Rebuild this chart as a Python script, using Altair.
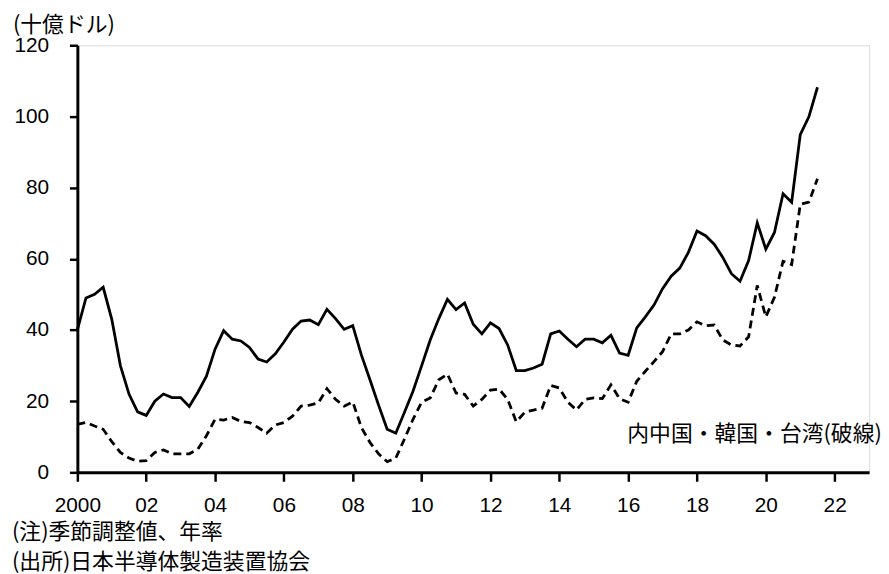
import altair as alt
import pandas as pd

# Quarterly data, 2000Q1 .. 2021Q3 (billion USD, SA annualised)
total = [40, 49, 50, 52,
         43, 30, 22, 17,
         16, 20, 22, 21,
         21, 18.5, 22.5, 27,
         34.6, 39.8, 37.4, 36.9,
         35.1, 31.8, 31, 33.3,
         36.6, 40.2, 42.5, 42.8,
         41.5, 45.8, 43.2, 40.2,
         41.2, 33, 26, 18.9,
         12.1, 11, 16.8, 22.8,
         29.9, 37.2, 43.2, 48.6,
         45.7, 47.6, 41.6, 38.9,
         42, 40.4, 35.8, 28.6,
         28.6, 29.3, 30.4, 38.9,
         39.7, 37.4, 35.3, 37.4,
         37.4, 36.4, 38.5, 33.5,
         32.9, 40.6, 43.7, 47,
         51.6, 55.1, 57.4, 61.8,
         67.8, 66.5, 64.1, 60.4,
         55.8, 53.7, 59.5, 70.1,
         62.7, 67.4, 78.3, 75.9,
         94.9, 99.9, 108.2]

asia = [13.5, 14, 13, 12.1,
        8.6, 5.6, 4, 3.1,
        3.3, 5.6, 6.3, 5.2,
        5.2, 5.2, 6.5, 10.3,
        14.9, 14.7, 15.4, 14.3,
        14, 12.6, 11, 13.3,
        14, 15.8, 18.6, 18.9,
        19.5, 23.5, 20.5, 18.6,
        19.8, 12.6, 8.4, 5.2,
        3, 4, 9.3, 14.9,
        19.7, 20.9, 26, 27.6,
        22.3, 21.9, 18.6, 20.5,
        23.1, 23.4, 20.5, 14.2,
        16.9, 17.5, 18, 24.4,
        23.7, 19.7, 17.5, 20.5,
        20.9, 20.7, 24.6, 20.7,
        19.7, 25.6, 28.4, 31.1,
        33.9, 38.9, 38.9, 40,
        42.3, 41.2, 41.4, 37.2,
        35.8, 35.5, 38.1, 52.5,
        43.7, 49.2, 59.3, 58.4,
        75.3, 75.9, 82.5]

start_year = 2000
x_ticks = list(range(2000, 2024))
y_ticks = [0, 20, 40, 60, 80, 100, 120]

unit_label = "(十億ドル)"
series_label = "内中国・韓国・台湾(破線)"
note1 = "(注)季節調整値、年率"
note2 = "(出所)日本半導体製造装置協会"

t = [start_year + i / 4 for i in range(len(total))]
df = pd.DataFrame({"t": t + t,
                   "v": total + asia,
                   "s": ["total"] * len(total) + ["asia"] * len(asia)})

NUM_FONT = "Liberation Sans, Arial, sans-serif"
JP_FONT = "Noto Sans CJK JP, sans-serif"

x_enc = alt.X("t:Q", scale=alt.Scale(domain=[2000, 2023], nice=False, zero=False),
              axis=alt.Axis(values=x_ticks, format="d",
                            labelExpr="datum.value == 2000 ? datum.label : (datum.value % 2 == 0 ? substring(datum.label, 2) : '')",
                            title=None, tickSize=9, labelPadding=14))
y_enc = alt.Y("v:Q", scale=alt.Scale(domain=[0, 120], nice=False),
              axis=alt.Axis(values=y_ticks, title=None, tickSize=8, labelPadding=21))

base = alt.Chart(df)
solid = base.transform_filter(alt.datum.s == "total").mark_line(
    color="black", strokeWidth=2.8).encode(x=x_enc, y=y_enc)
dashed = base.transform_filter(alt.datum.s == "asia").mark_line(
    color="black", strokeWidth=2.8, strokeDash=[8, 5]).encode(x="t:Q", y="v:Q")

def label(txt, x, y, align="left", size=22):
    return alt.Chart(pd.DataFrame({"txt": [txt]})).mark_text(
        align=align, baseline="middle", font=JP_FONT, fontSize=size, color="black"
    ).encode(text="txt:N", x=alt.value(x), y=alt.value(y))

chart = alt.layer(
    solid, dashed,
    label(unit_label, -65, -20),
    label(series_label, 555, 392),
    label(note1, -66, 491),
    label(note2, -66, 522),
).properties(
    width=799, height=431,
    autosize=alt.AutoSizeParams(type="none"),
    padding={"left": 70, "top": 35, "right": 12, "bottom": 100},
).configure_view(stroke=None).configure(background="white").configure_axis(
    grid=False, domainColor="black", domainWidth=3,
    tickColor="black", tickWidth=2.5,
    labelFont=NUM_FONT, labelFontSize=21, labelColor="black",
    labelFlush=False, labelOverlap=False,
)

chart.save("out.html", embed_options={"renderer": "svg", "actions": False})
